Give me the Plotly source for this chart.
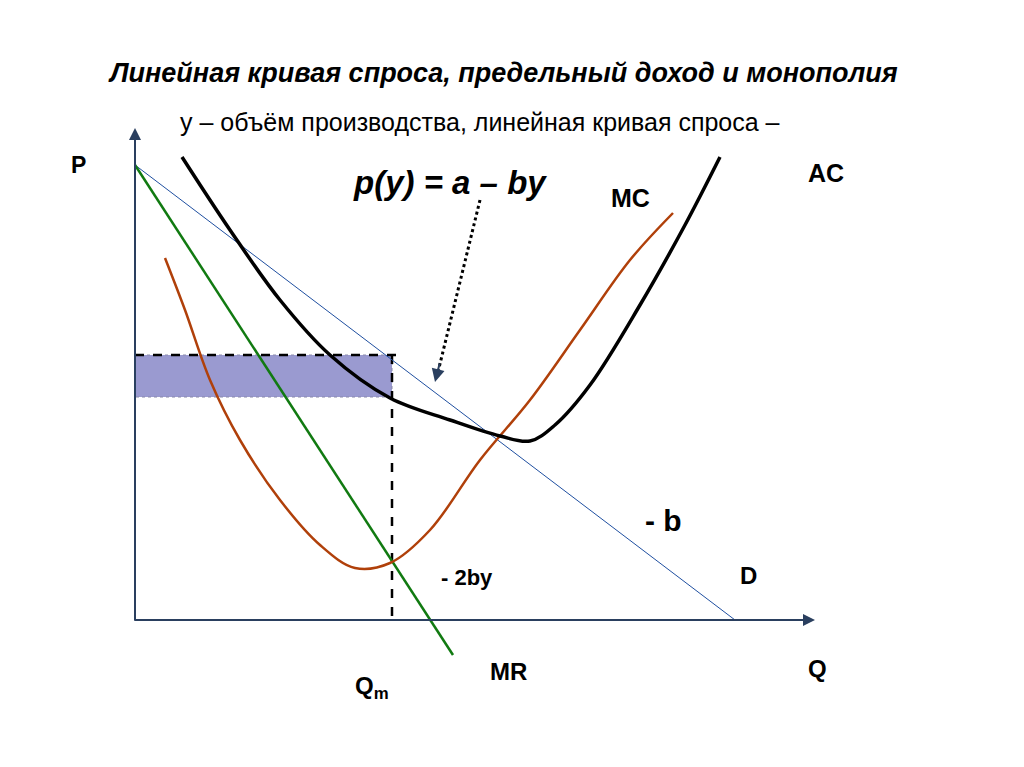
import plotly.graph_objects as go

H = 767

# curves in picture coordinates (x right, y down from top)
demand_x = [135, 735]
demand_y = [165, 620]
mr_x = [135, 453]
mr_y = [165, 655]
ac_x = [182, 230, 280, 330, 390, 450, 500, 530, 555, 590, 640, 685, 720]
ac_y = [157, 230, 300, 355, 398, 420, 436, 441, 425, 385, 305, 225, 157]
mc_x = [165, 185, 210, 240, 280, 320, 355, 390, 430, 480, 530, 580, 630, 673]
mc_y = [258, 310, 380, 440, 500, 545, 568, 563, 530, 460, 400, 330, 260, 213]
qm_x = 392
pm_y = 355
ac_at_qm = 397


def fy(v):
    return [H - t for t in v] if isinstance(v, list) else H - v


fig = go.Figure()
fig.add_trace(go.Scatter(x=[135, qm_x, qm_x, 135], y=fy([pm_y, pm_y, ac_at_qm, ac_at_qm]),
                         fill="toself", fillcolor="#9a9ad0", mode="lines",
                         line=dict(color="#8888aa", width=1, dash="dot")))
fig.add_trace(go.Scatter(x=[135, 400], y=fy([pm_y, pm_y]), mode="lines",
                         line=dict(color="black", width=2.5, dash="dash")))
fig.add_trace(go.Scatter(x=[qm_x, qm_x], y=fy([pm_y, 620]), mode="lines",
                         line=dict(color="black", width=2.5, dash="dash")))
fig.add_trace(go.Scatter(x=demand_x, y=fy(demand_y), mode="lines",
                         line=dict(color="#1f4fa0", width=1)))
fig.add_trace(go.Scatter(x=mr_x, y=fy(mr_y), mode="lines",
                         line=dict(color="#117a11", width=2.5)))
fig.add_trace(go.Scatter(x=mc_x, y=fy(mc_y), mode="lines", line_shape="spline",
                         line=dict(color="#b0400a", width=2.5)))
fig.add_trace(go.Scatter(x=ac_x, y=fy(ac_y), mode="lines", line_shape="spline",
                         line=dict(color="black", width=3.5)))

# axes
fig.add_annotation(x=135, y=fy(128), ax=135, ay=fy(622), xref="x", yref="y", axref="x", ayref="y",
                   showarrow=True, arrowhead=2, arrowwidth=2, arrowsize=1.2, text="")
fig.add_annotation(x=815, y=fy(620), ax=133, ay=fy(620), xref="x", yref="y", axref="x", ayref="y",
                   showarrow=True, arrowhead=2, arrowwidth=2, arrowsize=1.2, text="")
# dotted arrow
fig.add_trace(go.Scatter(x=[480, 438], y=fy([200, 372]), mode="lines",
                         line=dict(color="black", width=3, dash="dot")))
fig.add_annotation(x=435, y=fy(382), ax=440, ay=fy(362), xref="x", yref="y", axref="x", ayref="y",
                   showarrow=True, arrowhead=2, arrowwidth=2, arrowsize=1.3, text="")

F = "Liberation Sans, Arial"
labels = [
    (503, 73, "<b><i>Линейная кривая спроса, предельный доход и монополия</i></b>", 27),
    (480, 122, "y – объём производства, линейная кривая спроса –", 25),
    (78, 165, "<b>P</b>", 23),
    (450, 182, "<b><i>p(y) = a – by</i></b>", 33),
    (630, 198, "<b>MC</b>", 25),
    (826, 173, "<b>AC</b>", 25),
    (663, 520, "<b>- b</b>", 30),
    (748, 575, "<b>D</b>", 24),
    (467, 577, "<b>- 2by</b>", 22),
    (817, 668, "<b>Q</b>", 24),
    (508, 671, "<b>MR</b>", 24),
    (372, 687, "<b>Q<sub>m</sub></b>", 24),
]
for x, y, t, s in labels:
    fig.add_annotation(x=x, y=fy(y), text=t, showarrow=False, xref="x", yref="y",
                       font=dict(family=F, size=s, color="black"))

fig.update_layout(width=1024, height=767, margin=dict(l=0, r=0, t=0, b=0),
                  plot_bgcolor="white", paper_bgcolor="white", showlegend=False,
                  xaxis=dict(range=[8, 1032], visible=False, fixedrange=True),
                  yaxis=dict(range=[-8, H - 8], visible=False, fixedrange=True))
fig.write_html("out.html", config={"displayModeBar": False})
